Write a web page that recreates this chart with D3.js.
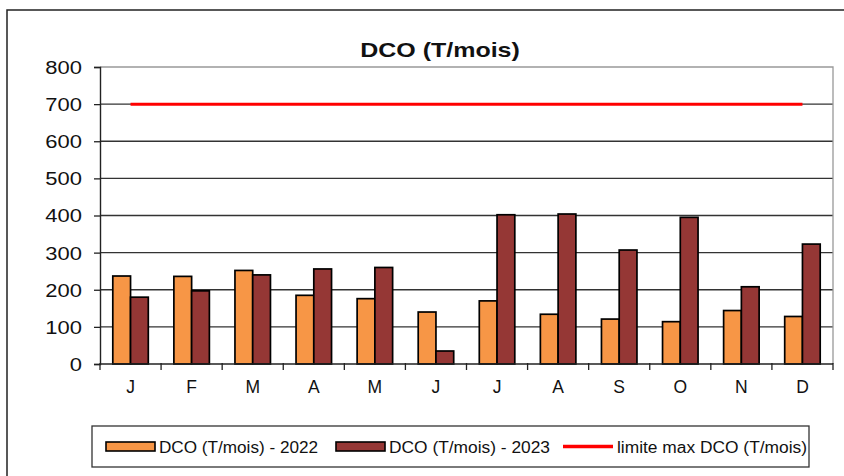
<!DOCTYPE html>
<html lang="fr">
<head>
<meta charset="utf-8">
<title>DCO (T/mois)</title>
<script src="https://cdn.jsdelivr.net/npm/d3@7"></script>
<style>
  body { margin: 0; background: #fff; }
  svg { display: block; font-family: "Liberation Sans", Arial, sans-serif; }
</style>
</head>
<body>
<script>
// Données
const mois = ["J", "F", "M", "A", "M", "J", "J", "A", "S", "O", "N", "D"];
const dco2022 = [237, 236, 252, 185, 176, 140, 170, 134, 121, 114, 144, 128];
const dco2023 = [180, 197, 240, 256, 260, 35, 402, 404, 307, 395, 208, 323];
const limite = 700;
const yTicks = [0, 100, 200, 300, 400, 500, 600, 700, 800];
const series = ["DCO (T/mois) - 2022", "DCO (T/mois) - 2023", "limite max DCO (T/mois)"];

const w = 844, h = 476;
const m = { left: 100, right: 833, top: 67, bottom: 364 };
const couleurs = ["#f79646", "#953735", "#ff0000"];

// étire le texte horizontalement (l'image d'origine est un peu élargie)
function etirer(sel, k) {
  sel.each(function () {
    const l = this.getComputedTextLength();
    d3.select(this).attr("textLength", l * k).attr("lengthAdjust", "spacingAndGlyphs");
  });
}

const svg = d3.select("body").append("svg")
  .attr("width", w).attr("height", h);

// cadre extérieur
svg.append("rect")
  .attr("x", 7).attr("y", 10).attr("width", w + 10).attr("height", h + 10)
  .attr("fill", "#fff").attr("stroke", "#222").attr("stroke-width", 1.5);

// titre
svg.append("text")
  .attr("x", 440).attr("y", 57)
  .attr("text-anchor", "middle")
  .attr("font-size", 21).attr("font-weight", "bold")
  .attr("fill", "#111")
  .text("DCO (T/mois)")
  .call(etirer, 1.19);

// échelles
const idx = d3.range(mois.length);
const x = d3.scaleBand().domain(idx).range([m.left, m.right]);
const xs = d3.scaleBand().domain([0, 1]).range([0, 35.5]);
const y = d3.scaleLinear().domain([0, 800]).range([m.bottom, m.top]);

// quadrillage
svg.append("g")
  .selectAll("line")
  .data(yTicks.filter(d => d > 0 && d < 800))
  .join("line")
  .attr("x1", m.left).attr("x2", m.right)
  .attr("y1", d => y(d)).attr("y2", d => y(d))
  .attr("stroke", "#333").attr("stroke-width", 1.3);

// bordure zone de tracé
svg.append("path")
  .attr("d", `M${m.left},${m.top}H${m.right}V${m.bottom}`)
  .attr("fill", "none").attr("stroke", "#999").attr("stroke-width", 1.3);

// barres
const groupes = svg.append("g")
  .selectAll("g")
  .data(idx)
  .join("g")
  .attr("transform", i => `translate(${x(i) + (x.bandwidth() - 35.5) / 2},0)`);

[dco2022, dco2023].forEach((serie, s) => {
  groupes.append("rect")
    .attr("x", xs(s))
    .attr("width", xs.bandwidth())
    .attr("y", i => y(serie[i]))
    .attr("height", i => y(0) - y(serie[i]))
    .attr("fill", couleurs[s])
    .attr("stroke", "#000").attr("stroke-width", 1.7);
});

// limite
svg.append("line")
  .attr("x1", x(0) + x.bandwidth() / 2)
  .attr("x2", x(11) + x.bandwidth() / 2)
  .attr("y1", y(limite)).attr("y2", y(limite))
  .attr("stroke", couleurs[2]).attr("stroke-width", 3);

// axe Y
const yAxis = svg.append("g")
  .attr("transform", `translate(${m.left},0)`)
  .call(d3.axisLeft(y).tickValues(yTicks).tickSize(6).tickPadding(12));
yAxis.select(".domain").attr("stroke", "#222").attr("stroke-width", 1.4);
yAxis.selectAll(".tick line").attr("stroke", "#222").attr("stroke-width", 1.3);
yAxis.selectAll("text").attr("font-size", 18).attr("fill", "#111")
  .attr("font-family", "Liberation Sans, Arial, sans-serif")
  .attr("dy", "0.36em")
  .call(etirer, 1.22);

// axe X
const xAxis = svg.append("g")
  .attr("transform", `translate(0,${m.bottom})`);
xAxis.append("line")
  .attr("x1", m.left).attr("x2", m.right)
  .attr("stroke", "#222").attr("stroke-width", 1.4);
xAxis.selectAll("line.tick")
  .data(d3.range(mois.length + 1))
  .join("line")
  .attr("class", "tick")
  .attr("x1", i => m.left + i * x.step()).attr("x2", i => m.left + i * x.step())
  .attr("y1", -1).attr("y2", 6)
  .attr("stroke", "#222").attr("stroke-width", 1.3);
xAxis.selectAll("text")
  .data(idx)
  .join("text")
  .attr("x", i => x(i) + x.bandwidth() / 2)
  .attr("y", 29)
  .attr("text-anchor", "middle")
  .attr("font-size", 17.5).attr("fill", "#111")
  .text(i => mois[i]);

// légende
const leg = svg.append("g");
leg.append("rect")
  .attr("x", 92).attr("y", 426).attr("width", 717).attr("height", 41)
  .attr("fill", "#fff").attr("stroke", "#333").attr("stroke-width", 1.3);

const legX = [106, 336, 563];
const legW = [159, 161, 190];
series.forEach((s, i) => {
  const g = leg.append("g").attr("transform", `translate(${legX[i]},446.5)`);
  if (i < 2) {
    g.append("rect")
      .attr("x", 0).attr("y", -4.5).attr("width", 49).attr("height", 9)
      .attr("fill", couleurs[i]).attr("stroke", "#000").attr("stroke-width", 1.6);
  } else {
    g.append("line")
      .attr("x1", 0).attr("x2", 50).attr("y1", 0).attr("y2", 0)
      .attr("stroke", couleurs[i]).attr("stroke-width", 3.5);
  }
  g.append("text")
    .attr("x", i < 2 ? 53 : 54).attr("y", 6)
    .attr("font-size", 16).attr("fill", "#111")
    .attr("textLength", legW[i]).attr("lengthAdjust", "spacingAndGlyphs")
    .text(s);
});
</script>
</body>
</html>
